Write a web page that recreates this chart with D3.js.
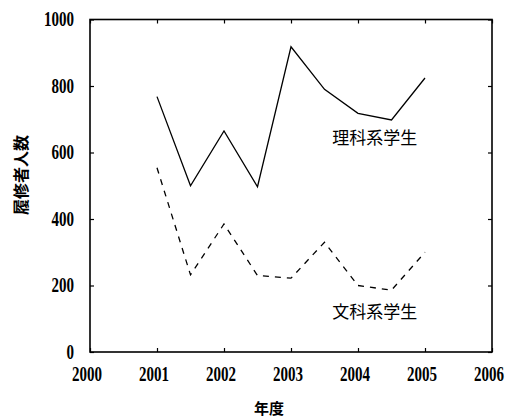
<!DOCTYPE html>
<html>
<head>
<meta charset="utf-8">
<script src="https://cdn.jsdelivr.net/npm/d3@7"></script>
<style>
  body { margin: 0; background: #fff; }
  svg { display: block; }
</style>
</head>
<body>
<svg id="chart" width="508" height="418"></svg>
<script>
// years are sampled every half year
const years = [2001, 2001.5, 2002, 2002.5, 2003, 2003.5, 2004, 2004.5, 2005];
const science = [768, 500, 665, 497, 918, 790, 718, 698, 824];
const humanities = [554, 232, 385, 230, 222, 330, 200, 186, 300];
const xTicks = [2000, 2001, 2002, 2003, 2004, 2005, 2006];
const yTicks = [0, 200, 400, 600, 800, 1000];
const seriesNames = ["理科系学生", "文科系学生"];

const svg = d3.select("#chart");
const plotL = 90, plotR = 492, plotT = 19.5, plotB = 352;

const x = d3.scaleLinear().domain([2000, 2006]).range([plotL, plotR]);
const y = d3.scaleLinear().domain([0, 1000]).range([plotB, plotT]);

const numFont = "Liberation Serif";
const cjkFont = "Noto Sans CJK JP";

function styleAxis(g) {
  g.attr("font-family", numFont).attr("font-size", 20);
  g.select(".domain").remove();
  g.selectAll(".tick line").attr("stroke", "#000").attr("stroke-width", 1.2);
  g.selectAll("text")
    .attr("fill", "#000")
    .attr("font-weight", "bold")
    .attr("textLength", function () { return this.textContent.length * 7.5; })
    .attr("lengthAdjust", "spacingAndGlyphs");
}

svg.append("g")
  .attr("transform", `translate(0,${plotB})`)
  .call(d3.axisBottom(x).tickValues(xTicks).tickFormat(d3.format("d")).tickSize(-4).tickPadding(15))
  .call(styleAxis)
  .selectAll("text").attr("dx", -3.5);

svg.append("g")
  .attr("transform", `translate(0,${plotT})`)
  .call(d3.axisTop(x).tickValues(xTicks).tickFormat("").tickSize(-4))
  .call(styleAxis);

svg.append("g")
  .attr("transform", `translate(${plotL},0)`)
  .call(d3.axisLeft(y).tickValues(yTicks).tickFormat(d3.format("d")).tickSize(-4).tickPadding(16))
  .call(styleAxis);

svg.append("g")
  .attr("transform", `translate(${plotR},0)`)
  .call(d3.axisRight(y).tickValues(yTicks).tickFormat("").tickSize(-4))
  .call(styleAxis);

// frame
svg.append("rect")
  .attr("x", plotL).attr("y", plotT)
  .attr("width", plotR - plotL).attr("height", plotB - plotT)
  .attr("fill", "none").attr("stroke", "#000").attr("stroke-width", 1.6);

const line = d3.line().x((d, i) => x(years[i])).y(d => y(d));

svg.append("path")
  .datum(science)
  .attr("d", line)
  .attr("fill", "none").attr("stroke", "#000").attr("stroke-width", 1.3);

svg.append("path")
  .datum(humanities)
  .attr("d", line)
  .attr("fill", "none").attr("stroke", "#000").attr("stroke-width", 1.3)
  .attr("stroke-dasharray", "6,6");

// series labels
svg.append("text")
  .attr("x", x(2004.25)).attr("y", y(625))
  .attr("text-anchor", "middle")
  .attr("font-family", cjkFont).attr("font-size", 17)
  .text(seriesNames[0]);

svg.append("text")
  .attr("x", x(2004.25)).attr("y", y(103))
  .attr("text-anchor", "middle")
  .attr("font-family", cjkFont).attr("font-size", 17)
  .text(seriesNames[1]);

// axis titles
svg.append("text")
  .attr("x", 269).attr("y", 407)
  .attr("text-anchor", "middle").attr("dominant-baseline", "central")
  .attr("font-family", cjkFont).attr("font-size", 15).attr("font-weight", "bold")
  .text("年度");

svg.append("text")
  .attr("transform", "translate(20,175) rotate(-90)")
  .attr("text-anchor", "middle").attr("dominant-baseline", "central")
  .attr("font-family", cjkFont).attr("font-size", 16).attr("font-weight", "bold")
  .text("履修者人数");
</script>
</body>
</html>
